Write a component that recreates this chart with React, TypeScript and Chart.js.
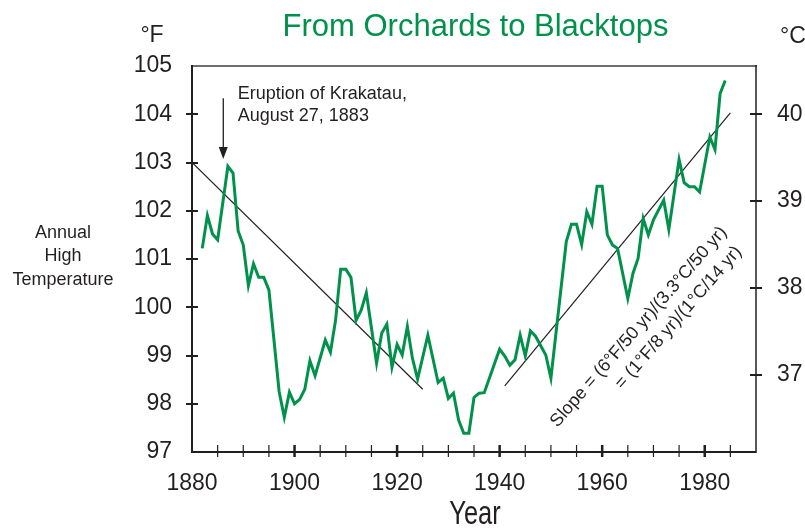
import React, { useEffect, useRef } from "react";
import { Chart, registerables } from "chart.js";

Chart.register(...registerables);

// ---------- data ----------
const years = [
  1882, 1883, 1884, 1885, 1887, 1888, 1889, 1890, 1891, 1892, 1893, 1894, 1895,
  1897, 1898, 1899, 1900, 1901, 1902, 1903, 1904, 1906, 1907, 1908, 1909, 1910,
  1911, 1912, 1913, 1914, 1916, 1917, 1918, 1919, 1920, 1921, 1922, 1923, 1924,
  1926, 1928, 1929, 1930, 1931, 1932, 1933, 1934, 1935, 1936, 1937, 1940, 1941,
  1942, 1943, 1944, 1945, 1946, 1947, 1949, 1950, 1953, 1954, 1955, 1956, 1957,
  1958, 1959, 1960, 1961, 1962, 1963, 1965, 1966, 1967, 1968, 1969, 1970, 1972,
  1973, 1975, 1976, 1977, 1978, 1979, 1981, 1982, 1983, 1984,
];
const annualHighF = [
  101.22, 101.9, 101.52, 101.4, 102.92, 102.78, 101.58, 101.29, 100.45, 100.9, 100.62, 100.62, 100.36,
  98.25, 97.72, 98.24, 98.0, 98.09, 98.3, 98.89, 98.58, 99.32, 99.07, 99.73, 100.79, 100.79,
  100.62, 99.73, 99.94, 100.3, 98.84, 99.46, 99.65, 98.76, 99.23, 99.01, 99.6, 98.94, 98.51,
  99.42, 98.44, 98.53, 98.11, 98.22, 97.66, 97.39, 97.39, 98.13, 98.22, 98.23, 99.13, 98.99,
  98.8, 98.91, 99.42, 98.99, 99.51, 99.4, 99.01, 98.53, 101.36, 101.72, 101.72, 101.3, 101.98,
  101.72, 102.51, 102.51, 101.5, 101.29, 101.22, 100.18, 100.7, 101.01, 101.84, 101.5, 101.81, 102.22,
  101.61, 103.06, 102.58, 102.5, 102.5, 102.39, 103.53, 103.27, 104.43, 104.7,
];
const trendEarlyYears = [1880, 1925];
const trendEarlyF = [103.0, 98.3];
const trendLateYears = [1941, 1985];
const trendLateF = [98.37, 104.03];

const yearTickLabels = [1880, 1900, 1920, 1940, 1960, 1980];
const yearTickMarks = [
  1885, 1890, 1895, 1900, 1905, 1910, 1915, 1920, 1925, 1930, 1935, 1940, 1945,
  1950, 1955, 1960, 1965, 1970, 1975, 1980, 1985,
];
const fahrenheitTicks = [97, 98, 99, 100, 101, 102, 103, 104, 105];
const celsiusTicks = [37, 38, 39, 40];

const titleText = "From Orchards to Blacktops";
const krakatauLines = ["Eruption of Krakatau,", "August 27, 1883"];
const slopeLines = ["Slope = (6°F/50 yr)/(3.3°C/50 yr)", "= (1°F/8 yr)/(1°C/14 yr)"];
const sideLabelLines = ["Annual", "High", "Temperature"];

// ---------- style ----------
const GREEN = "#00924a";
const INK = "#231f20";
const FONT = "'Liberation Sans', Arial, Helvetica, sans-serif";
const fToC = (f: number) => (f - 32) / 1.8;

const toXY = (xs: number[], ys: number[]) => xs.map((x, i) => ({ x, y: ys[i] }));

const decorPlugin = {
  id: "decor",
  afterDraw(chart: any) {
    const { ctx, chartArea, scales } = chart;
    const { left, right, top, bottom } = chartArea;
    const x = scales.x;
    const y = scales.y;
    const y2 = scales.y2;
    ctx.save();

    // frame
    ctx.lineCap = "butt";
    ctx.strokeStyle = "#6d6e71";
    ctx.lineWidth = 2;
    ctx.beginPath();
    ctx.moveTo(left - 1, top);
    ctx.lineTo(right + 1, top);
    ctx.stroke();
    ctx.strokeStyle = INK;
    ctx.lineWidth = 2;
    ctx.beginPath();
    ctx.moveTo(left, top - 1);
    ctx.lineTo(left, bottom);
    ctx.lineTo(right, bottom);
    ctx.stroke();
    ctx.lineWidth = 1.5;
    ctx.beginPath();
    ctx.moveTo(right, top - 1);
    ctx.lineTo(right, bottom + 1);
    ctx.stroke();

    // y tick marks (crossing)
    ctx.lineWidth = 2;
    fahrenheitTicks.forEach((f) => {
      if (f <= y.min || f >= y.max) return;
      const py = Math.round(y.getPixelForValue(f));
      ctx.beginPath();
      ctx.moveTo(left - 6, py);
      ctx.lineTo(left + 6, py);
      ctx.stroke();
    });
    celsiusTicks.forEach((c) => {
      const py = Math.round(y2.getPixelForValue(c));
      ctx.beginPath();
      ctx.moveTo(right - 6, py);
      ctx.lineTo(right + 6, py);
      ctx.stroke();
    });
    // x tick marks
    yearTickMarks.forEach((yr) => {
      const px = x.getPixelForValue(yr);
      const major = yearTickLabels.includes(yr);
      ctx.lineWidth = major ? 2.5 : 1.2;
      ctx.beginPath();
      ctx.moveTo(px, bottom - 7);
      ctx.lineTo(px, bottom + 5);
      ctx.stroke();
    });

    // Krakatau arrow
    const ax = x.getPixelForValue(1886.1);
    const ay0 = y.getPixelForValue(104.33);
    const ay1 = y.getPixelForValue(103.07);
    ctx.strokeStyle = INK;
    ctx.fillStyle = INK;
    ctx.lineWidth = 1.3;
    ctx.beginPath();
    ctx.moveTo(ax, ay0);
    ctx.lineTo(ax, ay1 - 8);
    ctx.stroke();
    ctx.beginPath();
    ctx.moveTo(ax, ay1);
    ctx.lineTo(ax - 4.5, ay1 - 12);
    ctx.lineTo(ax + 4.5, ay1 - 12);
    ctx.closePath();
    ctx.fill();

    // Krakatau text
    ctx.font = `18px ${FONT}`;
    ctx.textAlign = "left";
    ctx.textBaseline = "alphabetic";
    const kx = x.getPixelForValue(1888.93);
    const ky = y.getPixelForValue(104.325);
    krakatauLines.forEach((t, i) => ctx.fillText(t, kx, ky + i * 22.7));

    // Slope text (rotated)
    const sx = x.getPixelForValue(1951.3);
    const sy = y.getPixelForValue(97.5);
    ctx.save();
    ctx.translate(sx, sy);
    ctx.rotate((-49 * Math.PI) / 180);
    ctx.fillText(slopeLines[0], 0, 0);
    ctx.fillText(slopeLines[1], 71, 24);
    ctx.restore();

    // title
    ctx.fillStyle = GREEN;
    ctx.font = `31px ${FONT}`;
    ctx.textAlign = "center";
    ctx.textBaseline = "middle";
    ctx.fillText(titleText, 475.5, 27);

    // unit labels
    ctx.fillStyle = INK;
    ctx.font = `23px ${FONT}`;
    ctx.fillText("°F", 152, 36);
    ctx.fillText("°C", 793, 37);

    // side label
    ctx.font = `18px ${FONT}`;
    sideLabelLines.forEach((t, i) => ctx.fillText(t, 63, 233 + i * 23.5));

    // x axis title (condensed)
    ctx.save();
    ctx.translate(475, 524.3);
    ctx.scale(0.77, 1);
    ctx.font = `33px ${FONT}`;
    ctx.textBaseline = "alphabetic";
    ctx.fillText("Year", 0, 0);
    ctx.restore();

    ctx.restore();
  },
};

export default function App() {
  const ref = useRef<HTMLCanvasElement | null>(null);

  useEffect(() => {
    if (!ref.current) return;
    const chart = new Chart(ref.current, {
      type: "line",
      data: {
        datasets: [
          {
            label: "Annual High",
            data: toXY(years, annualHighF),
            borderColor: GREEN,
            borderWidth: 3,
            pointRadius: 0,
            tension: 0,
            borderJoinStyle: "miter",
            yAxisID: "y",
          },
          {
            label: "Trend 1880-1925",
            data: toXY(trendEarlyYears, trendEarlyF),
            borderColor: INK,
            borderWidth: 1.2,
            pointRadius: 0,
            yAxisID: "y",
          },
          {
            label: "Trend 1941-1985",
            data: toXY(trendLateYears, trendLateF),
            borderColor: INK,
            borderWidth: 1.2,
            pointRadius: 0,
            yAxisID: "y",
          },
        ],
      },
      options: {
        responsive: false,
        maintainAspectRatio: false,
        devicePixelRatio: 1,
        animation: false,
        layout: { padding: { top: 66, left: 0, right: 0, bottom: 0 } },
        plugins: {
          legend: { display: false },
          tooltip: { enabled: false },
          title: { display: false },
        },
        scales: {
          x: {
            type: "linear",
            position: "bottom",
            min: 1880,
            max: 1990,
            grid: { display: false, drawTicks: false },
            border: { display: false },
            afterBuildTicks: (s: any) => {
              s.ticks = yearTickLabels.map((v) => ({ value: v }));
            },
            afterFit: (s: any) => {
              s.height = 77;
            },
            ticks: {
              padding: 18,
              maxRotation: 0,
              autoSkip: false,
              color: INK,
              font: { family: FONT, size: 23 },
              callback: (v: any) => String(v),
            },
          },
          y: {
            type: "linear",
            position: "left",
            min: 97,
            max: 105,
            grid: { display: false, drawTicks: false },
            border: { display: false },
            afterBuildTicks: (s: any) => {
              s.ticks = fahrenheitTicks.map((v) => ({ value: v }));
            },
            afterFit: (s: any) => {
              s.width = 192;
            },
            ticks: {
              padding: 20,
              color: INK,
              font: { family: FONT, size: 23 },
              callback: (v: any) => String(v),
            },
          },
          y2: {
            type: "linear",
            position: "right",
            min: fToC(97),
            max: fToC(105),
            grid: { display: false, drawTicks: false },
            border: { display: false },
            afterBuildTicks: (s: any) => {
              s.ticks = celsiusTicks.map((v) => ({ value: v }));
            },
            afterFit: (s: any) => {
              s.width = 49;
            },
            ticks: {
              padding: 21,
              color: INK,
              font: { family: FONT, size: 23 },
              callback: (v: any) => String(v),
            },
          },
        },
      },
      plugins: [decorPlugin],
    });
    return () => chart.destroy();
  }, []);

  return (
    <div style={{ position: "absolute", left: 0, top: 0, width: 805, height: 529, background: "#fff" }}>
      <canvas ref={ref} width={805} height={529} style={{ display: "block", width: 805, height: 529 }} />
    </div>
  );
}
